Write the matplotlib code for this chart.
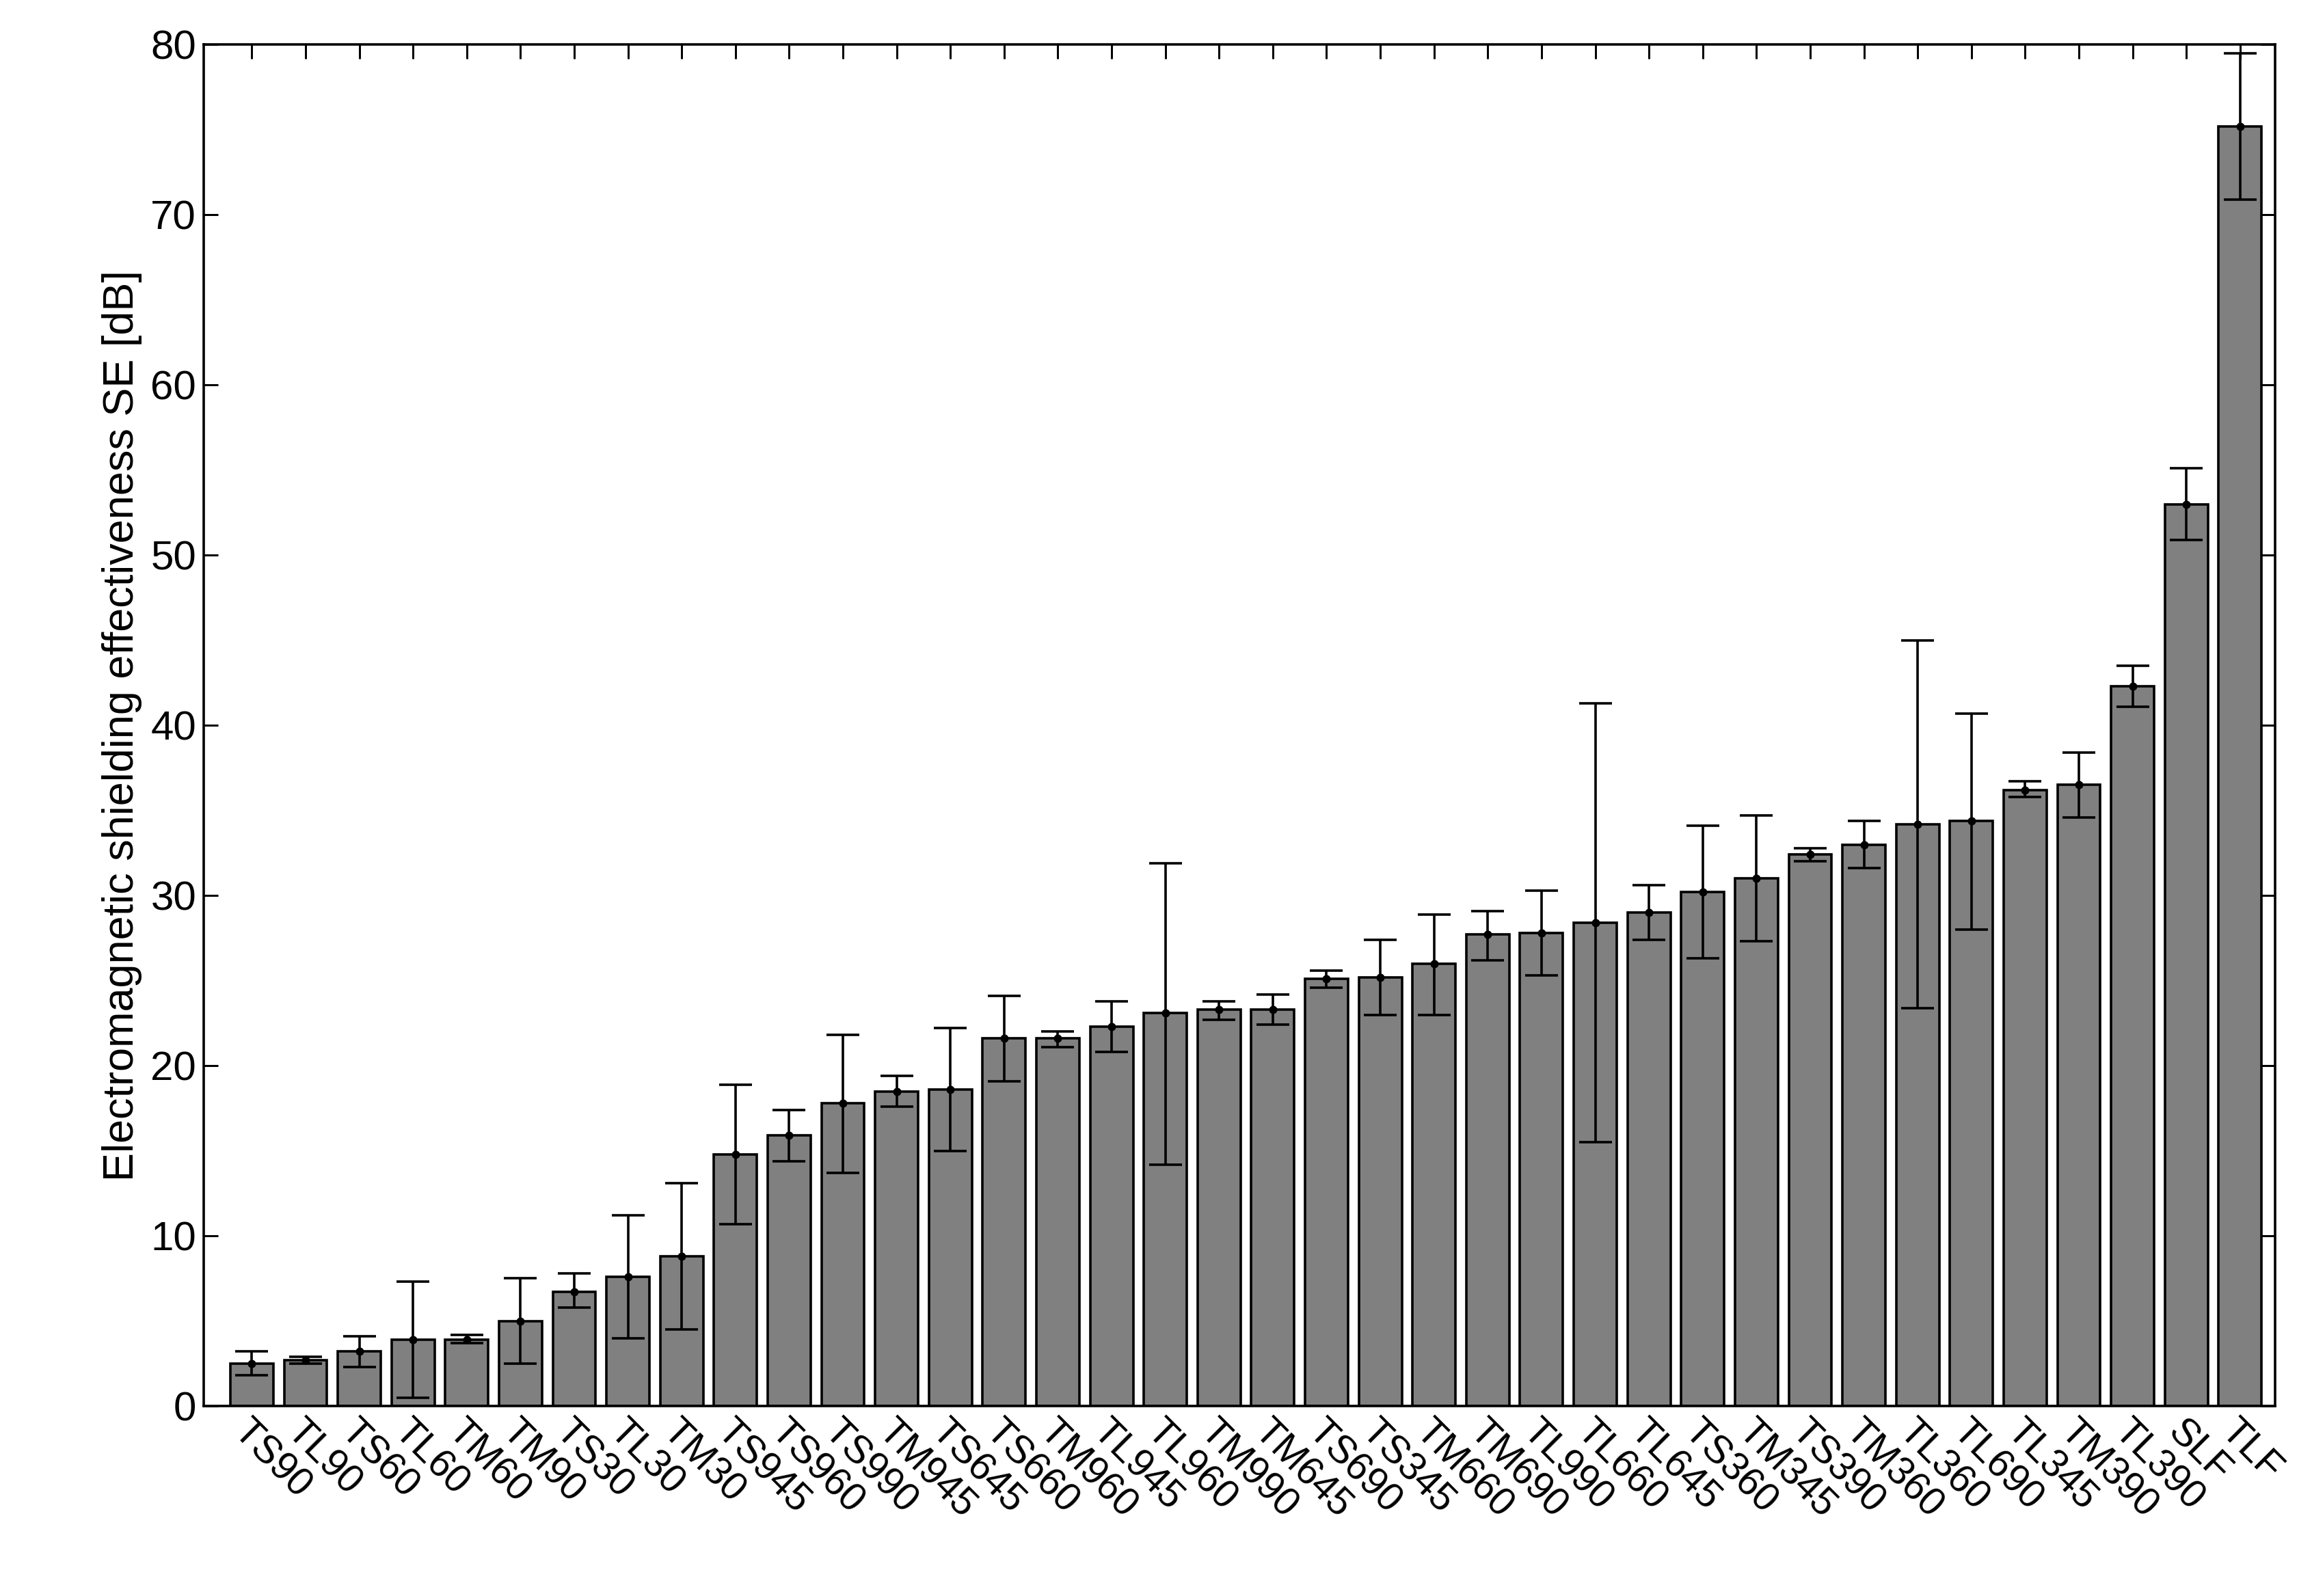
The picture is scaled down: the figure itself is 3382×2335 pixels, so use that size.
import matplotlib
matplotlib.use("Agg")
import matplotlib.pyplot as plt
import numpy as np

plt.rcParams['font.family'] = ['Liberation Sans', 'DejaVu Sans']

labels = ["TS90", "TL90", "TS60", "TL60", "TM60", "TM90", "TS30", "TL30", "TM30",
          "TS945", "TS960", "TS990", "TM945", "TS645", "TS660", "TM960", "TL945",
          "TL960", "TM990", "TM645", "TS690", "TS345", "TM660", "TM690", "TL990",
          "TL660", "TL645", "TS360", "TM345", "TS390", "TM360", "TL360", "TL690",
          "TL345", "TM390", "TL390", "SLF", "TLF"]
se = [2.5, 2.7, 3.2, 3.9, 3.9, 5.0, 6.7, 7.6, 8.8, 14.8, 15.9, 17.8, 18.5, 18.6,
      21.6, 21.6, 22.3, 23.1, 23.3, 23.3, 25.1, 25.2, 26.0, 27.7, 27.8, 28.4,
      29.0, 30.2, 31.0, 32.4, 33.0, 34.2, 34.4, 36.2, 36.5, 42.3, 53.0, 75.2]
err_lo = [1.8, 2.5, 2.3, 0.5, 3.7, 2.5, 5.8, 4.0, 4.5, 10.7, 14.4, 13.7, 17.6, 15.0,
          19.1, 21.1, 20.8, 14.2, 22.7, 22.4, 24.6, 23.0, 23.0, 26.2, 25.3, 15.5,
          27.4, 26.3, 27.3, 32.0, 31.6, 23.4, 28.0, 35.8, 34.6, 41.1, 50.9, 70.9]
err_hi = [3.2, 2.9, 4.1, 7.3, 4.2, 7.5, 7.8, 11.2, 13.1, 18.9, 17.4, 21.8, 19.4, 22.2,
          24.1, 22.0, 23.8, 31.9, 23.8, 24.2, 25.6, 27.4, 28.9, 29.1, 30.3, 41.3,
          30.6, 34.1, 34.7, 32.8, 34.4, 45.0, 40.7, 36.7, 38.4, 43.5, 55.1, 79.5]

se = np.array(se)
x = np.arange(len(labels))
yerr = [se - np.array(err_lo), np.array(err_hi) - se]

fig = plt.figure(figsize=(3382 / 216, 2335 / 216), dpi=216)
ax = fig.add_axes([0.088, 0.119, 0.896, 0.853])
ax.bar(x, se, width=0.8, color="#808080", edgecolor="black", linewidth=1.2, zorder=2)
ax.errorbar(x, se, yerr=yerr, fmt="o", color="black", markersize=3,
            capsize=8, elinewidth=1.2, capthick=1.2, zorder=3)

ax.set_xlim(-0.9, len(labels) - 0.35)
ax.set_ylim(0, 80)
ax.set_yticks(range(0, 81, 10))
ax.set_xticks(x)
ax.set_xticklabels(labels, rotation=-45, ha="left", rotation_mode="anchor", fontsize=19)
ax.tick_params(axis="y", labelsize=20)
ax.tick_params(direction="in", top=True, right=True, length=7, width=1)
ax.set_ylabel("Electromagnetic shielding effectiveness SE [dB]", fontsize=21)
for s in ax.spines.values():
    s.set_linewidth(1.2)

fig.savefig("out.png", dpi=216)
